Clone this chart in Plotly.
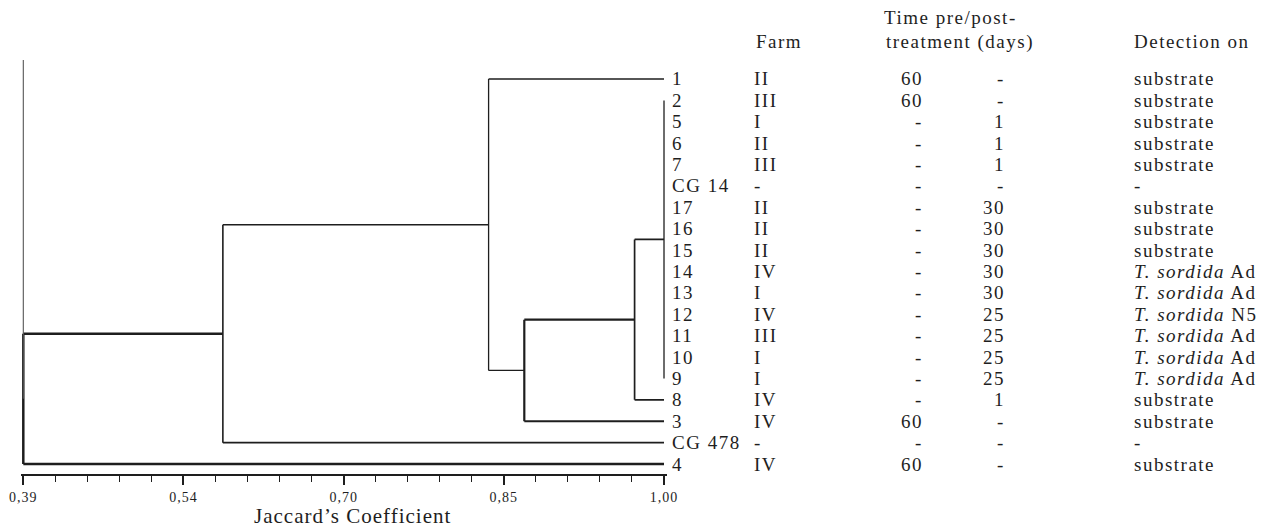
import plotly.graph_objects as go

# ---------------- data ----------------
leaves = ["1", "2", "5", "6", "7", "CG 14", "17", "16", "15", "14", "13", "12",
          "11", "10", "9", "8", "3", "CG 478", "4"]
farm = ["II", "III", "I", "II", "III", "-", "II", "II", "II", "IV", "I", "IV",
        "III", "I", "I", "IV", "IV", "-", "IV"]
time_pre = ["60", "60", "-", "-", "-", "-", "-", "-", "-", "-", "-", "-",
            "-", "-", "-", "-", "60", "-", "60"]
time_post = ["-", "-", "1", "1", "1", "-", "30", "30", "30", "30", "30", "25",
             "25", "25", "25", "1", "-", "-", "-"]
detection = ["substrate", "substrate", "substrate", "substrate", "substrate", "-",
             "substrate", "substrate", "substrate",
             "<i>T. sordida</i> Ad", "<i>T. sordida</i> Ad", "<i>T. sordida</i> N5",
             "<i>T. sordida</i> Ad", "<i>T. sordida</i> Ad", "<i>T. sordida</i> Ad",
             "substrate", "substrate", "-", "substrate"]

core_cluster = ["2", "5", "6", "7", "CG 14", "17", "16", "15", "14", "13", "12",
                "11", "10", "9"]
merge_names = ["A", "B", "C", "D", "E", "F"]
merge_children = [core_cluster, ["A", "8"], ["B", "3"], ["1", "C"], ["D", "CG 478"], ["E", "4"]]
merge_similarity = [1.00, 0.972, 0.867, 0.833, 0.580, 0.39]

tick_values = [0.39, 0.5425, 0.695, 0.8475, 1.00]
tick_text = ["0,39", "0,54", "0,70", "0,85", "1,00"]
minor_step = 0.0305

# ---------------- styling / layout ----------------
W, H = 1268, 527
BODY = 8                                # default page body margin offsets the figure
INK = "#1e1e1e"
SERIF = "Liberation Serif, Times New Roman, serif"
merge_width = {"A": 1.3, "B": 1.7, "C": 2.2, "D": 1.3, "E": 1.6, "F": 2.5}


def fx(px):  # page pixel -> paper fraction
    return (px - BODY) / W


def fy(py):
    return 1 - (py - BODY) / H


x0_px, x1_px = 23.3, 664.0            # page pixel of 0.39 and 1.00
row0_px, row_step = 79.0, 21.39       # page pixel of first row, row spacing
axis_px, top_px = 474.0, 60.0
pad = 0.0025
ppu = (x1_px - x0_px) / (1.00 - 0.39)
xr = [0.39 - pad, 1.00 + pad]
xdom = [fx(x0_px - pad * ppu), fx(x1_px + pad * ppu)]
yr = [(axis_px - row0_px) / row_step, (top_px - row0_px) / row_step]
ydom = [fy(axis_px), fy(top_px)]


def ls(s, sp=1.5):
    return f"<span style='letter-spacing:{sp}px'>{s}</span>"


# ---------------- dendrogram geometry from data ----------------
ypos = {name: i for i, name in enumerate(leaves)}
xpos = {name: 1.00 for name in leaves}

fig = go.Figure()
for name, children, h in zip(merge_names, merge_children, merge_similarity):
    cy = [ypos[c] for c in children]
    xs, ys = [h, h, None], [min(cy), max(cy), None]
    for c in children:
        xs += [h, xpos[c], None]
        ys += [ypos[c], ypos[c], None]
    fig.add_trace(go.Scatter(x=xs, y=ys, mode="lines", hoverinfo="skip",
                             line=dict(color=INK, width=merge_width[name]),
                             showlegend=False))
    ypos[name] = (min(cy) + max(cy)) / 2
    xpos[name] = h

# thin stem above the root
root = merge_names[-1]
fig.add_trace(go.Scatter(x=[merge_similarity[-1], merge_similarity[-1]],
                         y=[yr[1], ypos[root]], mode="lines", hoverinfo="skip",
                         line=dict(color="#555555", width=1.1), showlegend=False))

# ---------------- table text ----------------
col_label_px, col_farm_px, col_pre_px, col_post_px, col_det_px = 670, 752, 925, 1007, 1132
ann = []
for i in range(len(leaves)):
    for txt, px, anchor in [(leaves[i], col_label_px, "left"), (farm[i], col_farm_px, "left"),
                            (time_pre[i], col_pre_px, "right"), (time_post[i], col_post_px, "right"),
                            (detection[i], col_det_px, "left")]:
        ann.append(dict(x=fx(px), xref="paper", y=i, yref="y", text=ls(txt),
                        xanchor=anchor, yanchor="middle", showarrow=False,
                        font=dict(family=SERIF, size=19, color=INK)))

headers = [("Farm", 754, 42), ("Time pre/post-", 882, 18),
           ("treatment (days)", 884, 42), ("Detection on", 1132, 42)]
for txt, px, py in headers:
    ann.append(dict(x=fx(px), xref="paper", y=fy(py), yref="paper", text=ls(txt),
                    xanchor="left", yanchor="middle", showarrow=False,
                    font=dict(family=SERIF, size=19, color=INK)))

ann.append(dict(x=fx(353), xref="paper", y=fy(516), yref="paper",
                text=ls("Jaccard’s Coefficient", 1), xanchor="center", yanchor="middle",
                showarrow=False, font=dict(family=SERIF, size=21, color=INK)))

fig.update_layout(
    width=W, height=H, margin=dict(l=0, r=0, t=0, b=0, autoexpand=False),
    paper_bgcolor="white", plot_bgcolor="white",
    annotations=ann,
    xaxis=dict(domain=xdom, range=xr, showgrid=False, zeroline=False, automargin=False,
               showline=True, linecolor=INK, linewidth=1.5,
               tickmode="array", tickvals=tick_values,
               ticktext=[ls(t, 1) for t in tick_text],
               ticks="outside", ticklen=9, tickwidth=1.5, tickcolor=INK,
               minor=dict(tick0=0.39, dtick=minor_step, ticks="outside",
                          ticklen=6, tickwidth=1.3, tickcolor=INK),
               tickfont=dict(family=SERIF, size=14, color=INK),
               fixedrange=True),
    yaxis=dict(domain=ydom, range=yr, visible=False, automargin=False, fixedrange=True),
)

fig.write_html("out.html")
